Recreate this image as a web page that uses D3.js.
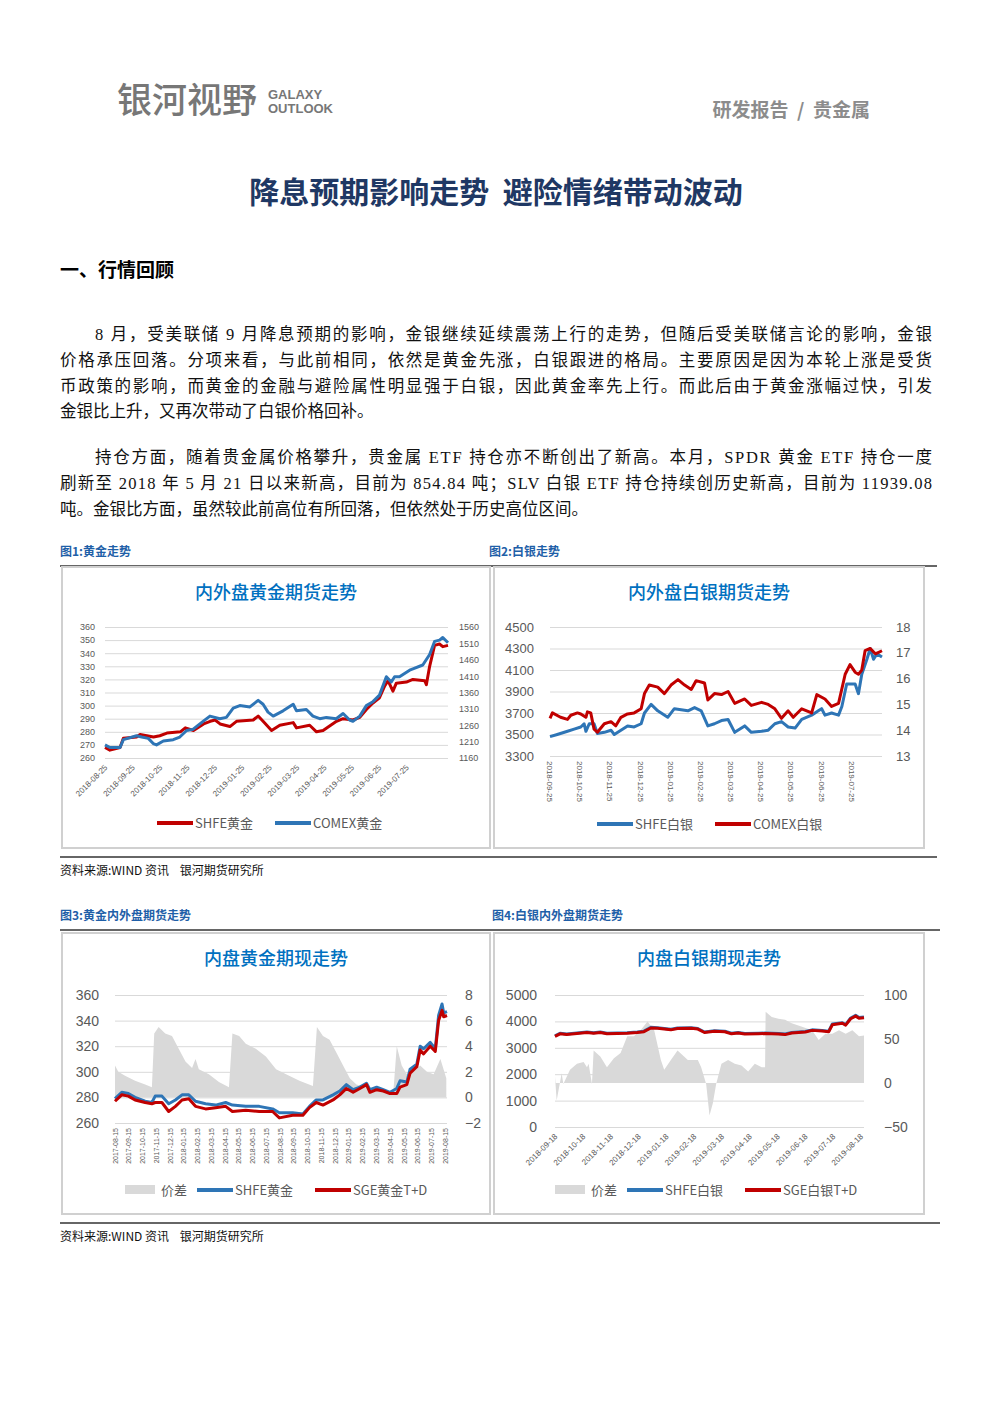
<!DOCTYPE html>
<html><head><meta charset="utf-8">
<script src="https://cdn.jsdelivr.net/npm/d3@7"></script>
<style>
body{margin:0;background:#fff}
</style></head><body>
<div id="main"></div>
<script>
// x values are month offsets from the first tick label
const goldTicks = ["2018-08-25","2018-09-25","2018-10-25","2018-11-25","2018-12-25","2019-01-25","2019-02-25","2019-03-25","2019-04-25","2019-05-25","2019-06-25","2019-07-25"]
const shfeGold = [[0,268],[.18,266],[.55,268],[.67,275],[1.15,276],[1.28,278],[1.77,276],[2.0,277],[2.26,279],[2.75,280],[2.93,283],[3.23,281],[3.6,286],[3.84,288],[4.02,289],[4.2,286],[4.56,284],[4.8,288],[5.41,289],[5.59,292],[5.77,288],[6.08,281],[6.38,285],[6.87,287],[6.99,283],[7.47,285],[7.72,280],[7.96,281],[8.45,288],[8.69,290],[9.05,289],[9.3,291],[9.54,297],[9.78,302],[10.02,306],[10.21,315],[10.33,319],[10.51,311],[10.63,317],[11.0,318],[11.24,320],[11.67,319],[11.73,316],[11.85,330],[12.03,346],[12.21,347],[12.33,345],[12.52,346]]
const comexGold = [[0,1200],[.18,1192],[.55,1192],[.67,1216],[1.15,1228],[1.34,1224],[1.58,1220],[1.76,1204],[1.88,1200],[2.13,1212],[2.49,1216],[2.73,1224],[2.98,1244],[3.22,1248],[3.58,1272],[3.83,1288],[4.19,1280],[4.43,1284],[4.68,1312],[4.92,1320],[5.29,1316],[5.59,1336],[5.77,1324],[5.95,1300],[6.14,1288],[6.5,1304],[6.87,1324],[6.99,1304],[7.35,1308],[7.59,1288],[7.84,1280],[8.08,1284],[8.44,1280],[8.69,1296],[8.93,1276],[9.05,1272],[9.3,1288],[9.54,1320],[9.78,1332],[10.02,1352],[10.27,1408],[10.45,1392],[10.57,1408],[10.75,1408],[11.12,1428],[11.24,1432],[11.6,1444],[11.85,1476],[12.03,1516],[12.21,1520],[12.33,1528],[12.52,1512]]

const silverTicks = ["2018-09-25","2018-10-25","2018-11-25","2018-12-25","2019-01-25","2019-02-25","2019-03-25","2019-04-25","2019-05-25","2019-06-25","2019-07-25"]
const shfeSilver = [[0,3480],[.24,3500],[.58,3530],[.8,3550],[1.02,3570],[1.13,3600],[1.19,3530],[1.3,3600],[1.46,3600],[1.57,3510],[1.8,3520],[2.02,3540],[2.13,3500],[2.35,3540],[2.57,3580],[2.79,3570],[3.02,3600],[3.13,3700],[3.35,3780],[3.57,3720],[3.9,3660],[4.12,3740],[4.57,3720],[4.79,3750],[5.01,3720],[5.23,3580],[5.45,3600],[5.68,3630],[5.9,3640],[6.12,3520],[6.45,3580],[6.67,3520],[7.01,3530],[7.23,3540],[7.45,3600],[7.67,3620],[7.89,3570],[8.12,3560],[8.34,3640],[8.67,3680],[8.89,3720],[9.0,3740],[9.11,3680],[9.33,3700],[9.56,3680],[9.67,3760],[9.83,3970],[10.11,3970],[10.22,3880],[10.33,4060],[10.5,4200],[10.61,4300],[10.72,4200],[10.83,4250],[11.0,4220]]
const comexSilver = [[0,14.46],[.08,14.67],[.35,14.5],[.58,14.42],[.69,14.58],[.91,14.67],[1.02,14.63],[1.19,14.5],[1.24,14.71],[1.35,14.67],[1.46,14.04],[1.57,13.92],[1.8,14.25],[2.02,14.33],[2.18,14.17],[2.35,14.5],[2.57,14.63],[2.79,14.67],[3.02,14.83],[3.13,15.42],[3.29,15.75],[3.57,15.67],[3.79,15.42],[4.01,15.75],[4.24,15.96],[4.46,15.75],[4.68,15.58],[4.84,15.92],[5.12,15.83],[5.23,15.17],[5.45,15.42],[5.68,15.38],[5.9,15.5],[6.12,15.04],[6.45,15.21],[6.67,14.96],[7.01,15.08],[7.23,15.0],[7.45,14.83],[7.67,14.46],[7.89,14.75],[8.06,14.5],[8.34,14.83],[8.67,14.67],[8.84,15.38],[9.11,15.21],[9.33,14.92],[9.56,15.04],[9.78,16.17],[9.94,16.54],[10.11,16.25],[10.22,16.17],[10.33,16.33],[10.44,17.08],[10.61,17.17],[10.78,16.96],[11.0,17.08]]

const goldSpotTicks = ["2017-08-15","2017-09-15","2017-10-15","2017-11-15","2017-12-15","2018-01-15","2018-02-15","2018-03-15","2018-04-15","2018-05-15","2018-06-15","2018-07-15","2018-08-15","2018-09-15","2018-10-15","2018-11-15","2018-12-15","2019-01-15","2019-02-15","2019-03-15","2019-04-15","2019-05-15","2019-06-15","2019-07-15","2019-08-15"]
const goldSpread = [[0,2.5],[.24,2],[.73,1.7],[1.46,1.3],[2.19,1.0],[2.68,0.8],[2.85,5.0],[3.17,5.5],[3.65,5.0],[4.14,4.8],[4.63,3.8],[5.12,2.8],[5.6,2.3],[5.85,3.0],[6.09,2.2],[6.82,1.8],[7.55,1.2],[8.28,0.8],[8.53,5.0],[9.02,4.8],[9.5,4.2],[10.23,3.8],[10.96,3.2],[11.7,2.2],[12.43,1.8],[13.4,1.3],[14.38,0.9],[14.67,5.5],[15.11,4.8],[15.59,4.5],[16.08,3.5],[16.57,2.5],[17.06,1.5],[17.54,1.0],[18.27,0.8],[19.25,0.5],[20.22,0.4],[20.47,4.0],[20.83,2.5],[21.2,1.8],[21.69,2.0],[22.17,2.5],[22.66,2.0],[23.15,1.8],[23.64,3.0],[24.07,1.5]]
const goldSpotX = [0,.49,.97,1.46,2.19,2.68,2.92,3.41,3.9,4.39,4.87,5.36,5.85,6.58,7.31,8.04,8.53,9.5,10.48,11.45,11.94,12.91,13.65,14.13,14.62,15.11,15.84,16.33,16.81,17.3,17.79,18.27,18.52,19.01,19.49,19.98,20.47,20.71,21.2,21.44,21.93,22.17,22.42,22.9,23.27,23.51,23.76,23.88,24.12]
const shfeGold2 = [279,284,283,280,277,276,281,281,275,278,282,282,277,275,274,276,274,273,273,271,268,268,267,273,278,278,282,285,290,286,288,291,286,288,286,284,287,293,292,302,306,320,318,323,318,344,353,346,347]
const sgeGold = [277,282,281,278,276,275,276,276,269,273,278,279,273,271,272,273,269,270,269,269,264,266,266,272,276,274,278,282,287,284,287,290,284,286,285,283,283,288,290,299,304,317,314,320,316,340,348,343,344]

const silverSpotTicks = ["2018-09-18","2018-10-18","2018-11-18","2018-12-18","2019-01-18","2019-02-18","2019-03-18","2019-04-18","2019-05-18","2019-06-18","2019-07-18","2019-08-18"]
const silverSpotX = [0,.18,.42,.79,1.15,1.39,1.63,1.87,2.24,2.6,2.96,3.2,3.45,3.69,4.17,4.41,4.9,5.14,5.38,5.74,6.11,6.35,6.59,6.83,7.32,7.56,8.04,8.28,8.52,9.01,9.25,9.61,9.85,9.98,10.34,10.46,10.64,10.82,10.94,11.12]
const shfeSilver2 = [3450,3550,3520,3560,3600,3570,3600,3550,3560,3570,3600,3630,3780,3760,3700,3750,3760,3730,3600,3650,3630,3550,3580,3540,3550,3560,3540,3520,3580,3620,3680,3660,3630,3900,3950,3880,4130,4230,4150,4170]
const sgeSilver = [3430,3530,3500,3540,3580,3550,3580,3530,3540,3550,3580,3610,3750,3740,3680,3730,3740,3710,3580,3630,3610,3530,3560,3520,3530,3540,3520,3500,3560,3600,3660,3640,3610,3870,3930,3860,4100,4200,4120,4140]
const silverSpread = [[0,7],[.06,-20],[.24,11],[.3,-1],[.54,15],[.79,22],[1.03,24],[1.15,18],[1.21,22],[1.33,-1],[1.39,37],[1.63,30],[1.87,18],[2.12,28],[2.36,34],[2.6,53],[2.84,53],[3.08,60],[3.33,70],[3.57,60],[3.81,26],[3.93,15],[4.17,26],[4.41,37],[4.78,26],[5.14,26],[5.26,18],[5.44,-1],[5.56,-37],[5.68,-23],[5.8,-1],[5.99,22],[6.23,26],[6.47,22],[6.71,20],[6.95,13],[7.19,22],[7.44,18],[7.56,18],[7.58,81],[7.8,75],[8.04,73],[8.28,72],[8.52,68],[8.89,64],[9.25,60],[9.49,49],[9.73,56],[9.98,56],[10.22,60],[10.46,56],[10.7,60],[10.94,53],[11.12,54]]

const RED = "#c00000", BLUE = "#2e75b6", GRAY = "#d9d9d9"
const CJK = "Noto Sans CJK SC, Noto Sans, sans-serif"
const svg = d3.select("#main").append("svg").attr("width", 992).attr("height", 1403).attr("font-family", CJK)

// ---- page text ----
svg.append("text").attr("x", 117).attr("y", 113).attr("fill", "#777").attr("font-size", 35).attr("font-weight", 500).text("银河视野")
svg.append("text").attr("x", 268).attr("y", 99).attr("fill", "#777").attr("font-size", 13).attr("font-weight", "bold").attr("font-family", "Liberation Sans Narrow, Liberation Sans").text("GALAXY")
svg.append("text").attr("x", 268).attr("y", 113).attr("fill", "#777").attr("font-size", 13).attr("font-weight", "bold").attr("font-family", "Liberation Sans Narrow, Liberation Sans").text("OUTLOOK")
svg.append("text").attr("x", 870).attr("y", 117).attr("text-anchor", "end").attr("fill", "#8c8c8c").attr("font-size", 19).attr("font-weight", "bold").text("研发报告\u00a0\u00a0/\u00a0\u00a0贵金属")
svg.append("text").attr("x", 496).attr("y", 203).attr("text-anchor", "middle").attr("fill", "#1f3864").attr("font-size", 30).attr("font-weight", "bold").text("降息预期影响走势\u00a0\u00a0避险情绪带动波动")
svg.append("text").attr("x", 60).attr("y", 277).attr("fill", "#000").attr("font-size", 19).attr("font-weight", "bold").text("一、行情回顾")

const paraLines = [
  [95, 340, "8 月，受美联储 9 月降息预期的影响，金银继续延续震荡上行的走势，但随后受美联储言论的影响，金银", true],
  [60, 366, "价格承压回落。分项来看，与此前相同，依然是黄金先涨，白银跟进的格局。主要原因是因为本轮上涨是受货", true],
  [60, 392, "币政策的影响，而黄金的金融与避险属性明显强于白银，因此黄金率先上行。而此后由于黄金涨幅过快，引发", true],
  [60, 417, "金银比上升，又再次带动了白银价格回补。", false],
  [95, 463, "持仓方面，随着贵金属价格攀升，贵金属 ETF 持仓亦不断创出了新高。本月，SPDR 黄金 ETF 持仓一度", true],
  [60, 489, "刷新至 2018 年 5 月 21 日以来新高，目前为 854.84 吨；SLV 白银 ETF 持仓持续创历史新高，目前为 11939.08", true],
  [60, 515, "吨。金银比方面，虽然较此前高位有所回落，但依然处于历史高位区间。", false]
]
paraLines.forEach(([x, y, s, just]) => {
  const t = svg.append("text").attr("x", x).attr("y", y).attr("font-size", 16.5).attr("fill", "#111")
    .attr("font-family", "Liberation Serif, Noto Sans CJK SC").text(s)
  if (just) t.attr("textLength", 932 - x).attr("lengthAdjust", "spacing")
})

function figHeader(y, l1, x2, l2, right) {
  svg.append("text").attr("x", 60).attr("y", y).attr("fill", "#1f5fa8").attr("font-size", 12).attr("font-weight", "bold").text(l1)
  svg.append("text").attr("x", x2).attr("y", y).attr("fill", "#1f5fa8").attr("font-size", 12).attr("font-weight", "bold").text(l2)
  svg.append("line").attr("x1", 60).attr("x2", right).attr("y1", y + 10).attr("y2", y + 10).attr("stroke", "#333").attr("stroke-width", 1.5)
}
function source(y, right) {
  svg.append("line").attr("x1", 60).attr("x2", right).attr("y1", y).attr("y2", y).attr("stroke", "#333").attr("stroke-width", 1.5)
  svg.append("text").attr("x", 60).attr("y", y + 18).attr("font-size", 12).attr("fill", "#111").text("资料来源:WIND 资讯\u00a0\u00a0\u00a0\u00a0银河期货研究所")
}
figHeader(556, "图1:黄金走势", 489, "图2:白银走势", 937)
source(857, 937)
figHeader(920, "图3:黄金内外盘期货走势", 492, "图4:白银内外盘期货走势", 940)
source(1223, 940)

// ---- charts ----
function chart(c) {
  const g = svg.append("g")
  g.append("rect").attr("x", c.box[0]).attr("y", c.box[1]).attr("width", c.box[2]).attr("height", c.box[3])
    .attr("fill", "#fff").attr("stroke", "#d0d0d0").attr("stroke-width", 2)
  g.append("text").attr("x", c.box[0] + c.box[2] / 2).attr("y", c.box[1] + 32).attr("text-anchor", "middle")
    .attr("fill", "#0070c0").attr("font-size", 18).attr("font-weight", 500).text(c.title)
  const x = d3.scaleLinear().domain(c.xDomain).range([c.x0, c.x1])
  const yL = d3.scaleLinear().domain(c.yL).range([c.yb, c.yt])
  const yR = d3.scaleLinear().domain(c.yR).range([c.yb, c.yt])
  const ax = g.append("g").attr("transform", `translate(${c.x0},0)`)
    .call(d3.axisLeft(yL).tickValues(d3.range(c.yL[0], c.yL[1] + 1e-9, c.yLStep)).tickFormat(d3.format("d")).tickSize(-(c.x1 - c.x0)).tickPadding(c.padL))
  ax.select(".domain").remove()
  ax.selectAll("line").attr("stroke", "#d9d9d9")
  ax.selectAll("text").attr("fill", "#595959").attr("font-size", c.fs).attr("font-family", "Liberation Sans, sans-serif")
  const ar = g.append("g").attr("transform", `translate(${c.x1},0)`)
    .call(d3.axisRight(yR).tickValues(d3.range(c.yR[0], c.yR[1] + 1e-9, c.yRStep)).tickFormat(d3.format("d")).tickSize(0).tickPadding(c.padR))
  ar.select(".domain").remove()
  ar.selectAll("text").attr("fill", "#595959").attr("font-size", c.fs).attr("font-family", "Liberation Sans, sans-serif")
  // x labels
  const xl = g.append("g")
  c.ticks.forEach((t, i) => {
    const px = x(i)
    xl.append("text").attr("font-size", c.xfs).attr("fill", "#595959").attr("font-family", "Liberation Sans, sans-serif")
      .attr("text-anchor", c.rot > 0 ? "start" : "end")
      .attr("transform", `translate(${px + c.xdx},${c.yb + c.xdy}) rotate(${c.rot})`).text(t)
  })
  if (c.area) {
    g.append("path").attr("d", d3.area().x(d => x(d[0])).y0(yR(0)).y1(d => yR(d[1]))(c.area))
      .attr("fill", GRAY)
  }
  c.lines.forEach(l => {
    const ys = l.axis === "R" ? yR : yL
    g.append("path").attr("d", d3.line().x(d => x(d[0])).y(d => ys(d[1]))(l.data))
      .attr("fill", "none").attr("stroke", l.color).attr("stroke-width", 3).attr("stroke-linejoin", "round")
  })
  // legend
  let lx = c.legX
  c.legend.forEach(it => {
    if (it.type === "area") g.append("rect").attr("x", lx).attr("y", c.legY - 5).attr("width", 30).attr("height", 9).attr("fill", GRAY)
    else g.append("line").attr("x1", lx).attr("x2", lx + 36).attr("y1", c.legY).attr("y2", c.legY).attr("stroke", it.color).attr("stroke-width", 4)
    const w = it.type === "area" ? 36 : 38
    g.append("text").attr("x", lx + w).attr("y", c.legY + 5).attr("font-size", 13).attr("fill", "#595959").text(it.name)
    lx += w + it.name.length * 11 + 14
  })
}

const pair = (xs, vs) => xs.map((x, i) => [x, vs[i]])

chart({box: [62, 567, 428, 281], title: "内外盘黄金期货走势", xDomain: [0, 12.52], x0: 105, x1: 448, yb: 758, yt: 627,
  yL: [260, 360], yLStep: 10, yR: [1160, 1560], yRStep: 50, fs: 9, padL: 10, padR: 11,
  ticks: goldTicks, rot: -45, xfs: 8, xdx: 3, xdy: 10,
  lines: [{data: shfeGold, color: RED, axis: "L"}, {data: comexGold, color: BLUE, axis: "R"}],
  legend: [{name: "SHFE黄金", color: RED}, {name: "COMEX黄金", color: BLUE}], legX: 157, legY: 823})

chart({box: [494, 567, 430, 281], title: "内外盘白银期货走势", xDomain: [0, 11], x0: 550, x1: 882, yb: 756, yt: 627,
  yL: [3300, 4500], yLStep: 200, yR: [13, 18], yRStep: 1, fs: 13, padL: 16, padR: 14,
  ticks: silverTicks, rot: 90, xfs: 8, xdx: -3, xdy: 5,
  lines: [{data: shfeSilver, color: BLUE, axis: "L"}, {data: comexSilver, color: RED, axis: "R"}],
  legend: [{name: "SHFE白银", color: BLUE}, {name: "COMEX白银", color: RED}], legX: 597, legY: 824})

chart({box: [62, 933, 428, 281], title: "内盘黄金期现走势", xDomain: [0, 24.12], x0: 115, x1: 447, yb: 1123, yt: 995,
  yL: [260, 360], yLStep: 20, yR: [-2, 8], yRStep: 2, fs: 14, padL: 16, padR: 18,
  ticks: goldSpotTicks, rot: -90, xfs: 7, xdx: 2.5, xdy: 5, area: goldSpread,
  lines: [{data: pair(goldSpotX, shfeGold2), color: BLUE, axis: "L"}, {data: pair(goldSpotX, sgeGold), color: RED, axis: "L"}],
  legend: [{name: "价差", type: "area"}, {name: "SHFE黄金", color: BLUE}, {name: "SGE黄金T+D", color: RED}], legX: 125, legY: 1190})

chart({box: [494, 933, 430, 281], title: "内盘白银期现走势", xDomain: [0, 11.12], x0: 555, x1: 864, yb: 1127, yt: 995,
  yL: [0, 5000], yLStep: 1000, yR: [-50, 100], yRStep: 50, fs: 14, padL: 18, padR: 20,
  ticks: silverSpotTicks, rot: -45, xfs: 8, xdx: 3, xdy: 10, area: silverSpread,
  lines: [{data: pair(silverSpotX, shfeSilver2), color: BLUE, axis: "L"}, {data: pair(silverSpotX, sgeSilver), color: RED, axis: "L"}],
  legend: [{name: "价差", type: "area"}, {name: "SHFE白银", color: BLUE}, {name: "SGE白银T+D", color: RED}], legX: 555, legY: 1190})
</script>
</body></html>
